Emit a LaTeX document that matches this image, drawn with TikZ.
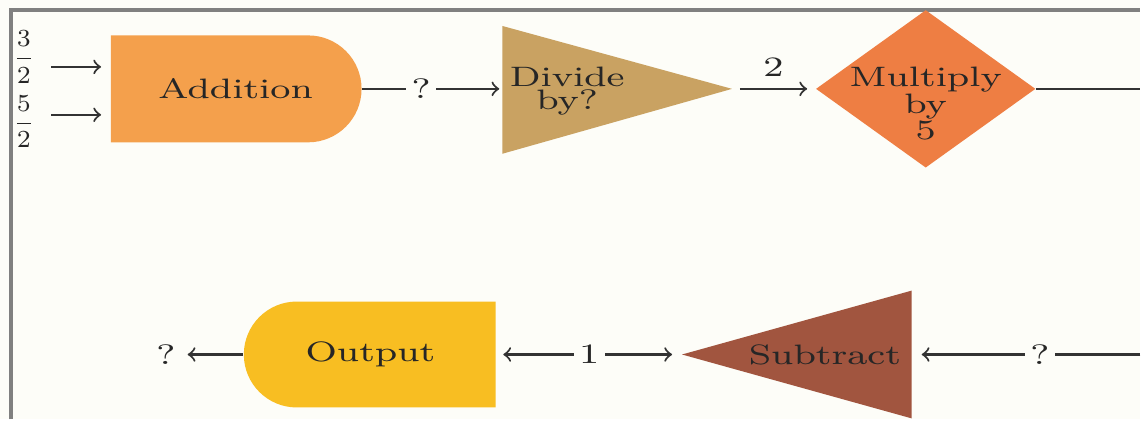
\documentclass[tikz,border=0pt]{standalone}
\usepackage{amsmath}
\usepackage{tikz}
\usetikzlibrary{calc}
\usetikzlibrary{positioning}
\usetikzlibrary{shapes.geometric,shapes.misc}
\usepackage{xcolor}
\definecolor{paper}{HTML}{FDFDF8}
\definecolor{addcol}{HTML}{F4A04C}
\definecolor{divcol}{HTML}{C9A262}
\definecolor{mulcol}{HTML}{EE7E43}
\definecolor{subcol}{HTML}{A1553F}
\definecolor{outcol}{HTML}{F8BE22}
\definecolor{framecol}{HTML}{808080}
\newcommand{\wtext}[1]{\scalebox{1.35}[1]{#1}}

\begin{document}
\begin{tikzpicture}[x=0.01cm,y=-0.01cm,
	every node/.style={font=\fontsize{8}{9.6}\selectfont,text=black!85},
	flow/.style={draw=black!80,line width=0.6pt},
	qlabel/.style={fill=paper,inner sep=1.5pt}]
		\tikzset{>=to}
		\fill[paper] (0,0) rectangle (1142,420);
		\draw[framecol,line width=0.9pt] (11,420) -- (11,10) -- (1142,10);
		
		\coordinate (divN) at (503,26);
		\coordinate (divS) at (503,154);
		\coordinate (divW) at (503,89);
		\coordinate (divE) at (733,89);
		\coordinate (subW) at (683,355);
		\coordinate (subN) at (913,291);
		\coordinate (subS) at (913,419);
		\coordinate (subE) at (913,355);
		\coordinate (edgeT) at (1142,89);
		\coordinate (edgeB) at (1142,355);
		
		\fill[divcol] (divN) -- (divE) -- (divS) -- cycle;
		\fill[subcol] (subN) -- (subW) -- (subS) -- cycle;
		
		\node[rounded rectangle,rounded rectangle west arc=none,fill=addcol,
			minimum width=2.51cm,minimum height=1.07cm,inner sep=0] (add) at (236,89) {\wtext{Addition}};
		\node[diamond,fill=mulcol,minimum width=2.2cm,minimum height=1.58cm,inner sep=0] (mul) at (927,89) {};
		\node[align=center] (multxt) at (927,104) {\wtext{Multiply}\\[-2pt]\wtext{by}\\[-2pt]\wtext{5}};
		\node[align=center] (divtxt) at (568,91) {\wtext{Divide}\\[-3pt]\wtext{by?}};
		\node (subtxt) at (826,355) {\wtext{Subtract}};
		\node[rounded rectangle,rounded rectangle east arc=none,fill=outcol,
			minimum width=2.52cm,minimum height=1.06cm,inner sep=0] (out) at (371,355) {\wtext{Output}};
		
		\node[font=\fontsize{7.5}{9}\selectfont,inner sep=1pt] (f1) at (24,57) {$\dfrac{3}{2}$};
		\node[font=\fontsize{7.5}{9}\selectfont,inner sep=1pt] (f2) at (24,122) {$\dfrac{5}{2}$};
		\node (qout) at (166,355) {\wtext{?}};
		
		\draw[flow,->,shorten <=0.12cm,shorten >=0.09cm] ([yshift=-0.1cm]f1.east) -- ([yshift=-0.1cm]f1.east -| add.west);
		\draw[flow,->,shorten <=0.12cm,shorten >=0.09cm] ([yshift=0.07cm]f2.east) -- ([yshift=0.07cm]f2.east -| add.west);
		\draw[flow,->,shorten >=0.03cm] (add.east) -- node[qlabel,pos=0.42]{\wtext{?}} (divW);
		\draw[flow,->,shorten <=0.08cm,shorten >=0.08cm] (divE) -- node[above=0pt]{\wtext{2}} (mul.west);
		\draw[flow] (mul.east) -- (edgeT);
		\draw[flow,->,shorten >=0.1cm] (edgeB) -- node[qlabel,pos=0.44]{\wtext{?}} (subE);
		\draw[flow,<->,shorten <=0.07cm,shorten >=0.1cm] (out.east) -- node[qlabel]{\wtext{1}} (subW);
		\draw[flow,->] (out.west) -- (qout);
		\end{tikzpicture}
\end{document}
